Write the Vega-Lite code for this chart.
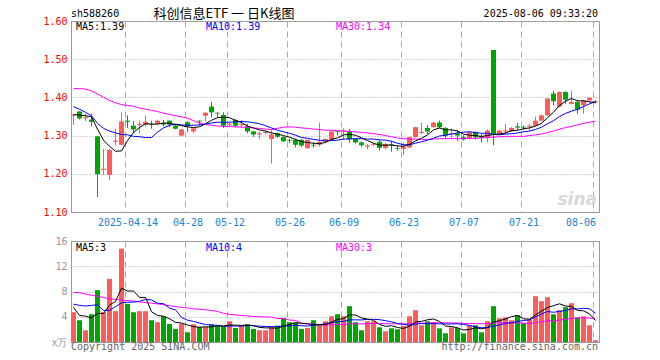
{
"$schema": "https://vega.github.io/schema/vega-lite/v6.json",
"padding": {"left": 0, "top": 7, "right": 0, "bottom": 0},
"background": "#ffffff",
"datasets": {"k": [
{"d":"2025-03-31","o":1.352,"h":1.356,"l":1.328,"c":1.355,"v":4.72,"m5":1.355,"m10":1.376,"m30":1.423,"vm5":5.5,"vm10":6.0,"vm30":7.85},
{"d":"2025-04-01","o":1.363,"h":1.364,"l":1.342,"c":1.345,"v":3.45,"m5":1.354,"m10":1.369,"m30":1.423,"vm5":4.2,"vm10":5.8,"vm30":7.8},
{"d":"2025-04-02","o":1.345,"h":1.357,"l":1.338,"c":1.348,"v":1.86,"m5":1.352,"m10":1.361,"m30":1.422,"vm5":4.1,"vm10":5.7,"vm30":7.6},
{"d":"2025-04-03","o":1.342,"h":1.357,"l":1.324,"c":1.336,"v":4.40,"m5":1.349,"m10":1.352,"m30":1.417,"vm5":3.8,"vm10":5.8,"vm30":7.4},
{"d":"2025-04-07","o":1.298,"h":1.298,"l":1.139,"c":1.199,"v":8.22,"m5":1.317,"m10":1.332,"m30":1.409,"vm5":4.53,"vm10":5.9,"vm30":7.25},
{"d":"2025-04-08","o":1.210,"h":1.265,"l":1.197,"c":1.213,"v":4.72,"m5":1.288,"m10":1.319,"m30":1.400,"vm5":4.53,"vm10":5.0,"vm30":7.05},
{"d":"2025-04-09","o":1.197,"h":1.265,"l":1.183,"c":1.262,"v":10.0,"m5":1.272,"m10":1.312,"m30":1.392,"vm5":5.84,"vm10":5.0,"vm30":6.85},
{"d":"2025-04-10","o":1.284,"h":1.318,"l":1.274,"c":1.287,"v":4.88,"m5":1.259,"m10":1.307,"m30":1.386,"vm5":6.44,"vm10":5.6,"vm30":6.75},
{"d":"2025-04-11","o":1.276,"h":1.361,"l":1.275,"c":1.337,"v":14.78,"m5":1.260,"m10":1.303,"m30":1.381,"vm5":8.52,"vm10":6.2,"vm30":6.65},
{"d":"2025-04-14","o":1.339,"h":1.353,"l":1.320,"c":1.336,"v":6.04,"m5":1.287,"m10":1.302,"m30":1.379,"vm5":8.08,"vm10":6.31,"vm30":6.55},
{"d":"2025-04-15","o":1.326,"h":1.338,"l":1.306,"c":1.316,"v":4.72,"m5":1.308,"m10":1.298,"m30":1.377,"vm5":8.08,"vm10":6.31,"vm30":6.5},
{"d":"2025-04-16","o":1.328,"h":1.337,"l":1.306,"c":1.331,"v":4.88,"m5":1.321,"m10":1.297,"m30":1.372,"vm5":7.06,"vm10":6.45,"vm30":6.35},
{"d":"2025-04-17","o":1.328,"h":1.353,"l":1.324,"c":1.336,"v":4.88,"m5":1.331,"m10":1.295,"m30":1.369,"vm5":7.06,"vm10":6.75,"vm30":6.25},
{"d":"2025-04-18","o":1.331,"h":1.339,"l":1.318,"c":1.329,"v":3.45,"m5":1.330,"m10":1.295,"m30":1.366,"vm5":4.79,"vm10":6.66,"vm30":6.15},
{"d":"2025-04-21","o":1.331,"h":1.341,"l":1.329,"c":1.339,"v":3.13,"m5":1.330,"m10":1.309,"m30":1.363,"vm5":4.21,"vm10":6.15,"vm30":6.05},
{"d":"2025-04-22","o":1.333,"h":1.341,"l":1.324,"c":1.329,"v":4.08,"m5":1.333,"m10":1.320,"m30":1.359,"vm5":4.08,"vm10":6.08,"vm30":5.9},
{"d":"2025-04-23","o":1.339,"h":1.341,"l":1.322,"c":1.329,"v":2.86,"m5":1.332,"m10":1.327,"m30":1.355,"vm5":3.68,"vm10":5.37,"vm30":5.75},
{"d":"2025-04-24","o":1.326,"h":1.329,"l":1.316,"c":1.318,"v":2.07,"m5":1.329,"m10":1.330,"m30":1.352,"vm5":3.12,"vm10":5.09,"vm30":5.6},
{"d":"2025-04-25","o":1.300,"h":1.318,"l":1.298,"c":1.316,"v":2.92,"m5":1.326,"m10":1.328,"m30":1.349,"vm5":3.01,"vm10":3.90,"vm30":5.5},
{"d":"2025-04-28","o":1.335,"h":1.338,"l":1.309,"c":1.325,"v":1.54,"m5":1.323,"m10":1.327,"m30":1.346,"vm5":2.69,"vm10":3.45,"vm30":5.4},
{"d":"2025-04-29","o":1.311,"h":1.320,"l":1.306,"c":1.319,"v":2.81,"m5":1.321,"m10":1.327,"m30":1.339,"vm5":2.44,"vm10":3.26,"vm30":5.25},
{"d":"2025-04-30","o":1.339,"h":1.340,"l":1.326,"c":1.337,"v":2.38,"m5":1.323,"m10":1.328,"m30":1.333,"vm5":2.34,"vm10":3.01,"vm30":5.2},
{"d":"2025-05-06","o":1.352,"h":1.361,"l":1.337,"c":1.360,"v":2.38,"m5":1.331,"m10":1.330,"m30":1.329,"vm5":2.41,"vm10":2.76,"vm30":5.1},
{"d":"2025-05-07","o":1.376,"h":1.389,"l":1.348,"c":1.361,"v":2.81,"m5":1.340,"m10":1.333,"m30":1.327,"vm5":2.38,"vm10":2.70,"vm30":5.0},
{"d":"2025-05-08","o":1.360,"h":1.361,"l":1.347,"c":1.358,"v":2.54,"m5":1.347,"m10":1.335,"m30":1.325,"vm5":2.58,"vm10":2.64,"vm30":4.85},
{"d":"2025-05-09","o":1.354,"h":1.361,"l":1.320,"c":1.326,"v":2.49,"m5":1.348,"m10":1.335,"m30":1.324,"vm5":2.52,"vm10":2.48,"vm30":4.55},
{"d":"2025-05-12","o":1.328,"h":1.334,"l":1.322,"c":1.331,"v":3.29,"m5":1.347,"m10":1.335,"m30":1.324,"vm5":2.70,"vm10":2.52,"vm30":4.35},
{"d":"2025-05-13","o":1.341,"h":1.342,"l":1.321,"c":1.326,"v":2.22,"m5":1.340,"m10":1.336,"m30":1.323,"vm5":2.67,"vm10":2.54,"vm30":4.3},
{"d":"2025-05-14","o":1.327,"h":1.341,"l":1.322,"c":1.330,"v":2.60,"m5":1.334,"m10":1.337,"m30":1.322,"vm5":2.63,"vm10":2.51,"vm30":4.2},
{"d":"2025-05-15","o":1.324,"h":1.331,"l":1.306,"c":1.311,"v":2.81,"m5":1.325,"m10":1.336,"m30":1.322,"vm5":2.68,"vm10":2.63,"vm30":4.13},
{"d":"2025-05-16","o":1.311,"h":1.312,"l":1.297,"c":1.303,"v":2.07,"m5":1.320,"m10":1.334,"m30":1.320,"vm5":2.60,"vm10":2.56,"vm30":4.04},
{"d":"2025-05-19","o":1.303,"h":1.311,"l":1.291,"c":1.306,"v":1.86,"m5":1.315,"m10":1.331,"m30":1.319,"vm5":2.31,"vm10":2.51,"vm30":3.99},
{"d":"2025-05-20","o":1.307,"h":1.313,"l":1.303,"c":1.310,"v":1.86,"m5":1.312,"m10":1.326,"m30":1.317,"vm5":2.24,"vm10":2.46,"vm30":3.99},
{"d":"2025-05-21","o":1.291,"h":1.315,"l":1.227,"c":1.303,"v":2.49,"m5":1.307,"m10":1.320,"m30":1.316,"vm5":2.22,"vm10":2.42,"vm30":3.93},
{"d":"2025-05-22","o":1.306,"h":1.308,"l":1.294,"c":1.297,"v":2.60,"m5":1.304,"m10":1.314,"m30":1.319,"vm5":2.18,"vm10":2.43,"vm30":3.74},
{"d":"2025-05-23","o":1.296,"h":1.298,"l":1.283,"c":1.285,"v":3.81,"m5":1.300,"m10":1.310,"m30":1.322,"vm5":2.52,"vm10":2.56,"vm30":3.71},
{"d":"2025-05-26","o":1.289,"h":1.292,"l":1.280,"c":1.287,"v":3.13,"m5":1.296,"m10":1.306,"m30":1.323,"vm5":2.78,"vm10":2.55,"vm30":3.48},
{"d":"2025-05-27","o":1.289,"h":1.292,"l":1.269,"c":1.276,"v":3.13,"m5":1.290,"m10":1.301,"m30":1.322,"vm5":3.03,"vm10":2.64,"vm30":3.42},
{"d":"2025-05-28","o":1.289,"h":1.291,"l":1.270,"c":1.274,"v":2.07,"m5":1.284,"m10":1.295,"m30":1.320,"vm5":2.95,"vm10":2.58,"vm30":3.00},
{"d":"2025-05-29","o":1.267,"h":1.290,"l":1.266,"c":1.289,"v":2.22,"m5":1.282,"m10":1.293,"m30":1.319,"vm5":2.87,"vm10":2.52,"vm30":2.87},
{"d":"2025-05-30","o":1.276,"h":1.282,"l":1.268,"c":1.274,"v":3.45,"m5":1.280,"m10":1.290,"m30":1.317,"vm5":2.80,"vm10":2.66,"vm30":2.83},
{"d":"2025-06-03","o":1.276,"h":1.334,"l":1.271,"c":1.284,"v":2.70,"m5":1.279,"m10":1.288,"m30":1.316,"vm5":2.71,"vm10":2.75,"vm30":2.76},
{"d":"2025-06-04","o":1.284,"h":1.293,"l":1.280,"c":1.291,"v":3.29,"m5":1.282,"m10":1.286,"m30":1.314,"vm5":2.75,"vm10":2.89,"vm30":2.70},
{"d":"2025-06-05","o":1.289,"h":1.313,"l":1.288,"c":1.311,"v":4.08,"m5":1.290,"m10":1.287,"m30":1.314,"vm5":3.15,"vm10":3.05,"vm30":2.72},
{"d":"2025-06-06","o":1.311,"h":1.313,"l":1.300,"c":1.309,"v":4.40,"m5":1.294,"m10":1.288,"m30":1.313,"vm5":3.58,"vm10":3.23,"vm30":2.77},
{"d":"2025-06-09","o":1.311,"h":1.319,"l":1.289,"c":1.314,"v":4.08,"m5":1.302,"m10":1.291,"m30":1.312,"vm5":3.71,"vm10":3.26,"vm30":2.77},
{"d":"2025-06-10","o":1.311,"h":1.317,"l":1.281,"c":1.291,"v":5.67,"m5":1.303,"m10":1.291,"m30":1.311,"vm5":4.30,"vm10":3.51,"vm30":2.86},
{"d":"2025-06-11","o":1.291,"h":1.293,"l":1.279,"c":1.282,"v":3.13,"m5":1.301,"m10":1.292,"m30":1.310,"vm5":4.27,"vm10":3.51,"vm30":2.89},
{"d":"2025-06-12","o":1.282,"h":1.285,"l":1.270,"c":1.275,"v":1.86,"m5":1.294,"m10":1.292,"m30":1.308,"vm5":3.83,"vm10":3.49,"vm30":2.86},
{"d":"2025-06-13","o":1.271,"h":1.278,"l":1.265,"c":1.274,"v":3.29,"m5":1.287,"m10":1.291,"m30":1.307,"vm5":3.61,"vm10":3.60,"vm30":2.92},
{"d":"2025-06-16","o":1.276,"h":1.281,"l":1.272,"c":1.278,"v":3.29,"m5":1.280,"m10":1.291,"m30":1.305,"vm5":3.45,"vm10":3.58,"vm30":2.93},
{"d":"2025-06-17","o":1.284,"h":1.289,"l":1.261,"c":1.268,"v":2.33,"m5":1.275,"m10":1.289,"m30":1.303,"vm5":2.78,"vm10":3.54,"vm30":2.93},
{"d":"2025-06-18","o":1.268,"h":1.281,"l":1.264,"c":1.278,"v":1.70,"m5":1.275,"m10":1.288,"m30":1.300,"vm5":2.49,"vm10":3.38,"vm30":2.91},
{"d":"2025-06-19","o":1.278,"h":1.287,"l":1.258,"c":1.276,"v":2.17,"m5":1.275,"m10":1.285,"m30":1.297,"vm5":2.56,"vm10":3.19,"vm30":2.89},
{"d":"2025-06-20","o":1.267,"h":1.274,"l":1.261,"c":1.265,"v":2.02,"m5":1.273,"m10":1.280,"m30":1.294,"vm5":2.30,"vm10":2.95,"vm30":2.87},
{"d":"2025-06-23","o":1.265,"h":1.281,"l":1.249,"c":1.271,"v":2.54,"m5":1.272,"m10":1.276,"m30":1.292,"vm5":2.15,"vm10":2.80,"vm30":2.87},
{"d":"2025-06-24","o":1.269,"h":1.297,"l":1.267,"c":1.296,"v":4.08,"m5":1.277,"m10":1.276,"m30":1.291,"vm5":2.50,"vm10":2.64,"vm30":2.90},
{"d":"2025-06-25","o":1.296,"h":1.323,"l":1.295,"c":1.322,"v":5.04,"m5":1.286,"m10":1.280,"m30":1.291,"vm5":3.17,"vm10":2.83,"vm30":2.99},
{"d":"2025-06-26","o":1.307,"h":1.334,"l":1.303,"c":1.310,"v":2.65,"m5":1.293,"m10":1.284,"m30":1.290,"vm5":3.27,"vm10":2.91,"vm30":2.99},
{"d":"2025-06-27","o":1.320,"h":1.328,"l":1.304,"c":1.311,"v":3.29,"m5":1.302,"m10":1.288,"m30":1.290,"vm5":3.52,"vm10":2.91,"vm30":3.01},
{"d":"2025-06-30","o":1.322,"h":1.336,"l":1.321,"c":1.334,"v":3.13,"m5":1.315,"m10":1.293,"m30":1.291,"vm5":3.64,"vm10":2.90,"vm30":3.05},
{"d":"2025-07-01","o":1.334,"h":1.339,"l":1.319,"c":1.322,"v":2.17,"m5":1.320,"m10":1.299,"m30":1.292,"vm5":3.26,"vm10":2.88,"vm30":3.06},
{"d":"2025-07-02","o":1.320,"h":1.322,"l":1.293,"c":1.300,"v":1.38,"m5":1.315,"m10":1.301,"m30":1.292,"vm5":2.52,"vm10":2.85,"vm30":3.04},
{"d":"2025-07-03","o":1.303,"h":1.319,"l":1.291,"c":1.306,"v":2.33,"m5":1.315,"m10":1.304,"m30":1.292,"vm5":2.46,"vm10":2.86,"vm30":3.03},
{"d":"2025-07-04","o":1.306,"h":1.315,"l":1.286,"c":1.300,"v":2.22,"m5":1.312,"m10":1.307,"m30":1.292,"vm5":2.25,"vm10":2.88,"vm30":3.02},
{"d":"2025-07-07","o":1.296,"h":1.301,"l":1.287,"c":1.290,"v":1.38,"m5":1.304,"m10":1.309,"m30":1.292,"vm5":1.90,"vm10":2.77,"vm30":2.94},
{"d":"2025-07-08","o":1.294,"h":1.311,"l":1.290,"c":1.309,"v":2.65,"m5":1.301,"m10":1.310,"m30":1.293,"vm5":1.99,"vm10":2.62,"vm30":2.92},
{"d":"2025-07-09","o":1.309,"h":1.311,"l":1.290,"c":1.296,"v":2.65,"m5":1.300,"m10":1.308,"m30":1.293,"vm5":2.25,"vm10":2.39,"vm30":2.91},
{"d":"2025-07-10","o":1.298,"h":1.304,"l":1.282,"c":1.294,"v":1.54,"m5":1.298,"m10":1.306,"m30":1.294,"vm5":2.09,"vm10":2.27,"vm30":2.89},
{"d":"2025-07-11","o":1.294,"h":1.316,"l":1.282,"c":1.313,"v":3.29,"m5":1.300,"m10":1.306,"m30":1.295,"vm5":2.30,"vm10":2.27,"vm30":2.93},
{"d":"2025-07-14","o":1.524,"h":1.524,"l":1.275,"c":1.303,"v":5.67,"m5":1.303,"m10":1.303,"m30":1.296,"vm5":3.16,"vm10":2.53,"vm30":3.00},
{"d":"2025-07-15","o":1.303,"h":1.315,"l":1.302,"c":1.313,"v":3.76,"m5":1.304,"m10":1.302,"m30":1.297,"vm5":3.38,"vm10":2.69,"vm30":3.04},
{"d":"2025-07-16","o":1.311,"h":1.331,"l":1.304,"c":1.314,"v":3.92,"m5":1.307,"m10":1.304,"m30":1.298,"vm5":3.64,"vm10":2.94,"vm30":3.06},
{"d":"2025-07-17","o":1.311,"h":1.322,"l":1.309,"c":1.320,"v":3.45,"m5":1.313,"m10":1.305,"m30":1.298,"vm5":4.02,"vm10":3.05,"vm30":3.04},
{"d":"2025-07-18","o":1.324,"h":1.333,"l":1.315,"c":1.321,"v":4.24,"m5":1.314,"m10":1.307,"m30":1.298,"vm5":4.21,"vm10":3.26,"vm30":3.03},
{"d":"2025-07-21","o":1.323,"h":1.327,"l":1.315,"c":1.321,"v":2.97,"m5":1.318,"m10":1.310,"m30":1.298,"vm5":3.67,"vm10":3.41,"vm30":2.99},
{"d":"2025-07-22","o":1.323,"h":1.331,"l":1.315,"c":1.326,"v":3.50,"m5":1.320,"m10":1.312,"m30":1.300,"vm5":3.62,"vm10":3.50,"vm30":2.92},
{"d":"2025-07-23","o":1.326,"h":1.350,"l":1.324,"c":1.339,"v":7.26,"m5":1.325,"m10":1.316,"m30":1.302,"vm5":4.28,"vm10":3.96,"vm30":3.06},
{"d":"2025-07-24","o":1.339,"h":1.355,"l":1.337,"c":1.353,"v":6.47,"m5":1.332,"m10":1.322,"m30":1.304,"vm5":4.89,"vm10":4.45,"vm30":3.21},
{"d":"2025-07-25","o":1.353,"h":1.399,"l":1.352,"c":1.397,"v":7.10,"m5":1.347,"m10":1.331,"m30":1.308,"vm5":5.46,"vm10":4.83,"vm30":3.34},
{"d":"2025-07-28","o":1.410,"h":1.417,"l":1.379,"c":1.390,"v":4.40,"m5":1.361,"m10":1.339,"m30":1.312,"vm5":5.75,"vm10":4.71,"vm30":3.38},
{"d":"2025-07-29","o":1.376,"h":1.416,"l":1.374,"c":1.414,"v":5.04,"m5":1.379,"m10":1.350,"m30":1.317,"vm5":6.05,"vm10":4.84,"vm30":3.47},
{"d":"2025-07-30","o":1.414,"h":1.416,"l":1.383,"c":1.394,"v":5.51,"m5":1.390,"m10":1.358,"m30":1.321,"vm5":5.70,"vm10":4.99,"vm30":3.59},
{"d":"2025-07-31","o":1.383,"h":1.418,"l":1.382,"c":1.388,"v":6.15,"m5":1.397,"m10":1.364,"m30":1.324,"vm5":5.64,"vm10":5.26,"vm30":3.73},
{"d":"2025-08-01","o":1.388,"h":1.394,"l":1.357,"c":1.368,"v":3.92,"m5":1.391,"m10":1.369,"m30":1.328,"vm5":5.00,"vm10":5.23,"vm30":3.79},
{"d":"2025-08-04","o":1.379,"h":1.394,"l":1.357,"c":1.392,"v":4.08,"m5":1.391,"m10":1.376,"m30":1.332,"vm5":4.94,"vm10":5.34,"vm30":3.84},
{"d":"2025-08-05","o":1.392,"h":1.400,"l":1.387,"c":1.399,"v":2.65,"m5":1.388,"m10":1.383,"m30":1.335,"vm5":4.46,"vm10":5.26,"vm30":3.79},
{"d":"2025-08-06","o":1.387,"h":1.394,"l":1.384,"c":1.390,"v":0.27,"m5":1.387,"m10":1.389,"m30":1.338,"vm5":3.41,"vm10":4.56,"vm30":3.63}
]},
"vconcat": [
{
"width": 528, "height": 191,
"layer": [
{"data": {"name": "k"}, "mark": {"type": "rule", "xOffset": -0.5, "strokeWidth": 1},
 "encoding": {
  "x": {"field": "d", "type": "ordinal", "scale": {"type": "band", "paddingInner": 0, "paddingOuter": 0},
   "axis": {"values": ["2025-04-14","2025-04-28","2025-05-12","2025-05-26","2025-06-09","2025-06-23","2025-07-07","2025-07-21","2025-08-06"],
    "labelExpr": "datum.value == '2025-04-14' ? datum.value : substring(datum.value, 5, 10)",
    "bandPosition": 0, "labelAngle": 0, "labelPadding": 5, "labelColor": "#1a7fd6", "labelOverlap": false,
    "labelAlign": {"condition": {"test": "datum.value == '2025-08-06'", "value": "right"}, "value": "center"},
    "grid": true, "gridDash": [6, 4], "title": null}},
  "y": {"field": "l", "type": "quantitative", "scale": {"domain": [1.1, 1.6], "nice": false, "zero": false},
   "axis": {"values": [1.1, 1.2, 1.3, 1.4, 1.5, 1.6], "tickCount": 20, "format": ".2f", "labelColor": "#ff0000", "labelPadding": 4, "labelOverlap": false, "gridDash": [1, 2], "minExtent": 70, "maxExtent": 70, "title": null}},
  "y2": {"field": "h"},
  "color": {"condition": {"test": "datum.c >= datum.o", "value": "#ff5b5b"}, "value": "#00a600"}
 }},
{"data": {"name": "k"}, "mark": {"type": "bar", "width": 5, "xOffset": -0.5},
 "encoding": {
  "x": {"field": "d", "type": "ordinal", "scale": {"type": "band", "paddingInner": 0, "paddingOuter": 0}},
  "y": {"field": "o", "type": "quantitative", "scale": {"domain": [1.1, 1.6], "nice": false, "zero": false}},
  "y2": {"field": "c"},
  "color": {"condition": {"test": "datum.c >= datum.o", "value": "#ff5b5b"}, "value": "#00a600"}
 }},
{"data": {"name": "k"}, "mark": {"type": "line", "color": "#ff00ff", "strokeWidth": 1, "xOffset": -0.5},
 "encoding": {
  "x": {"field": "d", "type": "ordinal", "scale": {"type": "band", "paddingInner": 0, "paddingOuter": 0}},
  "y": {"field": "m30", "type": "quantitative", "scale": {"domain": [1.1, 1.6], "nice": false, "zero": false}}
 }},
{"data": {"name": "k"}, "mark": {"type": "line", "color": "#0000ff", "strokeWidth": 1, "xOffset": -0.5},
 "encoding": {
  "x": {"field": "d", "type": "ordinal", "scale": {"type": "band", "paddingInner": 0, "paddingOuter": 0}},
  "y": {"field": "m10", "type": "quantitative", "scale": {"domain": [1.1, 1.6], "nice": false, "zero": false}}
 }},
{"data": {"name": "k"}, "mark": {"type": "line", "color": "#000000", "strokeWidth": 1, "xOffset": -0.5},
 "encoding": {
  "x": {"field": "d", "type": "ordinal", "scale": {"type": "band", "paddingInner": 0, "paddingOuter": 0}},
  "y": {"field": "m5", "type": "quantitative", "scale": {"domain": [1.1, 1.6], "nice": false, "zero": false}}
 }},
{"data": {"values": [{}]}, "mark": {"type": "text", "text": "sina", "font": "DejaVu Sans", "fontSize": 17, "fontStyle": "italic", "fontWeight": "bold", "color": "#d8d8d8", "align": "right", "baseline": "alphabetic", "dx": 1, "dy": -7},
 "encoding": {"x": {"datum": "2025-08-06", "type": "ordinal", "scale": {"type": "band", "paddingInner": 0, "paddingOuter": 0}},
  "y": {"datum": 1.1, "type": "quantitative", "scale": {"domain": [1.1, 1.6], "nice": false, "zero": false}}}},
{"data": {"values": [{}]}, "mark": {"type": "text", "text": "sh588260", "font": "DejaVu Sans Mono", "fontSize": 10, "color": "#000000", "align": "left", "baseline": "alphabetic", "dx": -3, "dy": -4},
 "encoding": {"x": {"datum": "2025-03-31", "type": "ordinal", "scale": {"type": "band", "paddingInner": 0, "paddingOuter": 0}},
  "y": {"datum": 1.6, "type": "quantitative", "scale": {"domain": [1.1, 1.6], "nice": false, "zero": false}}}},
{"data": {"values": [{}]}, "mark": {"type": "text", "text": "科创信息ETF 一 日K线图", "font": "Noto Sans CJK SC", "fontSize": 13, "color": "#000000", "align": "center", "baseline": "alphabetic", "dx": 0, "dy": -3},
 "encoding": {"x": {"datum": "2025-05-09", "type": "ordinal", "scale": {"type": "band", "paddingInner": 0, "paddingOuter": 0}},
  "y": {"datum": 1.6, "type": "quantitative", "scale": {"domain": [1.1, 1.6], "nice": false, "zero": false}}}},
{"data": {"values": [{}]}, "mark": {"type": "text", "text": "2025-08-06 09:33:20", "font": "DejaVu Sans Mono", "fontSize": 10, "color": "#000000", "align": "right", "baseline": "alphabetic", "dx": 2, "dy": -4},
 "encoding": {"x": {"datum": "2025-08-06", "type": "ordinal", "scale": {"type": "band", "paddingInner": 0, "paddingOuter": 0}},
  "y": {"datum": 1.6, "type": "quantitative", "scale": {"domain": [1.1, 1.6], "nice": false, "zero": false}}}},
{"data": {"values": [{}]}, "mark": {"type": "text", "text": "MA5:1.39", "font": "DejaVu Sans Mono", "fontSize": 10, "color": "#000000", "align": "left", "baseline": "alphabetic", "dx": 2, "dy": 9},
 "encoding": {"x": {"datum": "2025-03-31", "type": "ordinal", "scale": {"type": "band", "paddingInner": 0, "paddingOuter": 0}},
  "y": {"datum": 1.6, "type": "quantitative", "scale": {"domain": [1.1, 1.6], "nice": false, "zero": false}}}},
{"data": {"values": [{}]}, "mark": {"type": "text", "text": "MA10:1.39", "font": "DejaVu Sans Mono", "fontSize": 10, "color": "#0000ff", "align": "left", "baseline": "alphabetic", "dx": 0, "dy": 9},
 "encoding": {"x": {"datum": "2025-05-06", "type": "ordinal", "scale": {"type": "band", "paddingInner": 0, "paddingOuter": 0}},
  "y": {"datum": 1.6, "type": "quantitative", "scale": {"domain": [1.1, 1.6], "nice": false, "zero": false}}}},
{"data": {"values": [{}]}, "mark": {"type": "text", "text": "MA30:1.34", "font": "DejaVu Sans Mono", "fontSize": 10, "color": "#ff00ff", "align": "left", "baseline": "alphabetic", "dx": -2, "dy": 9},
 "encoding": {"x": {"datum": "2025-06-06", "type": "ordinal", "scale": {"type": "band", "paddingInner": 0, "paddingOuter": 0}},
  "y": {"datum": 1.6, "type": "quantitative", "scale": {"domain": [1.1, 1.6], "nice": false, "zero": false}}}}
]
},
{
"width": 528, "height": 101,
"layer": [
{"data": {"name": "k"}, "mark": {"type": "bar", "width": 5, "xOffset": -0.5},
 "encoding": {
  "x": {"field": "d", "type": "ordinal", "scale": {"type": "band", "paddingInner": 0, "paddingOuter": 0},
   "axis": {"values": ["2025-04-14","2025-04-28","2025-05-12","2025-05-26","2025-06-09","2025-06-23","2025-07-07","2025-07-21","2025-08-06"],
    "labels": false, "bandPosition": 0, "grid": true, "gridDash": [6, 4], "title": null}},
  "y": {"field": "v", "type": "quantitative", "scale": {"domain": [0, 16], "nice": false},
   "axis": {"values": [0, 4, 8, 12, 16], "tickCount": 20, "labelExpr": "datum.value == 0 ? 'x万' : datum.label", "labelColor": "#999999", "labelPadding": 4, "labelOverlap": false, "gridDash": [1, 2], "minExtent": 70, "maxExtent": 70, "title": null}},
  "color": {"condition": {"test": "datum.c >= datum.o", "value": "#ff5b5b"}, "value": "#00a600"}
 }},
{"data": {"name": "k"}, "mark": {"type": "line", "color": "#ff00ff", "strokeWidth": 1, "xOffset": -0.5},
 "encoding": {
  "x": {"field": "d", "type": "ordinal", "scale": {"type": "band", "paddingInner": 0, "paddingOuter": 0}},
  "y": {"field": "vm30", "type": "quantitative", "scale": {"domain": [0, 16], "nice": false}}
 }},
{"data": {"name": "k"}, "mark": {"type": "line", "color": "#0000ff", "strokeWidth": 1, "xOffset": -0.5},
 "encoding": {
  "x": {"field": "d", "type": "ordinal", "scale": {"type": "band", "paddingInner": 0, "paddingOuter": 0}},
  "y": {"field": "vm10", "type": "quantitative", "scale": {"domain": [0, 16], "nice": false}}
 }},
{"data": {"name": "k"}, "mark": {"type": "line", "color": "#000000", "strokeWidth": 1, "xOffset": -0.5},
 "encoding": {
  "x": {"field": "d", "type": "ordinal", "scale": {"type": "band", "paddingInner": 0, "paddingOuter": 0}},
  "y": {"field": "vm5", "type": "quantitative", "scale": {"domain": [0, 16], "nice": false}}
 }},
{"data": {"values": [{}]}, "mark": {"type": "text", "text": "MA5:3", "font": "DejaVu Sans Mono", "fontSize": 10, "color": "#000000", "align": "left", "baseline": "alphabetic", "dx": 2, "dy": 10},
 "encoding": {"x": {"datum": "2025-03-31", "type": "ordinal", "scale": {"type": "band", "paddingInner": 0, "paddingOuter": 0}},
  "y": {"datum": 16, "type": "quantitative", "scale": {"domain": [0, 16], "nice": false}}}},
{"data": {"values": [{}]}, "mark": {"type": "text", "text": "MA10:4", "font": "DejaVu Sans Mono", "fontSize": 10, "color": "#0000ff", "align": "left", "baseline": "alphabetic", "dx": 0, "dy": 10},
 "encoding": {"x": {"datum": "2025-05-06", "type": "ordinal", "scale": {"type": "band", "paddingInner": 0, "paddingOuter": 0}},
  "y": {"datum": 16, "type": "quantitative", "scale": {"domain": [0, 16], "nice": false}}}},
{"data": {"values": [{}]}, "mark": {"type": "text", "text": "MA30:3", "font": "DejaVu Sans Mono", "fontSize": 10, "color": "#ff00ff", "align": "left", "baseline": "alphabetic", "dx": -2, "dy": 10},
 "encoding": {"x": {"datum": "2025-06-06", "type": "ordinal", "scale": {"type": "band", "paddingInner": 0, "paddingOuter": 0}},
  "y": {"datum": 16, "type": "quantitative", "scale": {"domain": [0, 16], "nice": false}}}},
{"data": {"values": [{}]}, "mark": {"type": "text", "text": "Copyright 2025 SINA.COM", "font": "DejaVu Sans Mono", "fontSize": 10, "color": "#666666", "align": "left", "baseline": "alphabetic", "dx": -3, "dy": 8},
 "encoding": {"x": {"datum": "2025-03-31", "type": "ordinal", "scale": {"type": "band", "paddingInner": 0, "paddingOuter": 0}},
  "y": {"datum": 0, "type": "quantitative", "scale": {"domain": [0, 16], "nice": false}}}},
{"data": {"values": [{}]}, "mark": {"type": "text", "text": "http://finance.sina.com.cn", "font": "DejaVu Sans Mono", "fontSize": 10, "color": "#666666", "align": "right", "baseline": "alphabetic", "dx": 2, "dy": 8},
 "encoding": {"x": {"datum": "2025-08-06", "type": "ordinal", "scale": {"type": "band", "paddingInner": 0, "paddingOuter": 0}},
  "y": {"datum": 0, "type": "quantitative", "scale": {"domain": [0, 16], "nice": false}}}}
]
}
],
"spacing": 29,
"bounds": "flush",
"config": {
 "view": {"stroke": "#999999", "strokeWidth": 1},
 "axis": {"labelFont": "DejaVu Sans Mono", "labelFontSize": 10, "ticks": false, "tickSize": 0, "domainColor": "#999999", "gridColor": "#aaaaaa", "gridOpacity": 1, "labelOverlap": false}
}
}
